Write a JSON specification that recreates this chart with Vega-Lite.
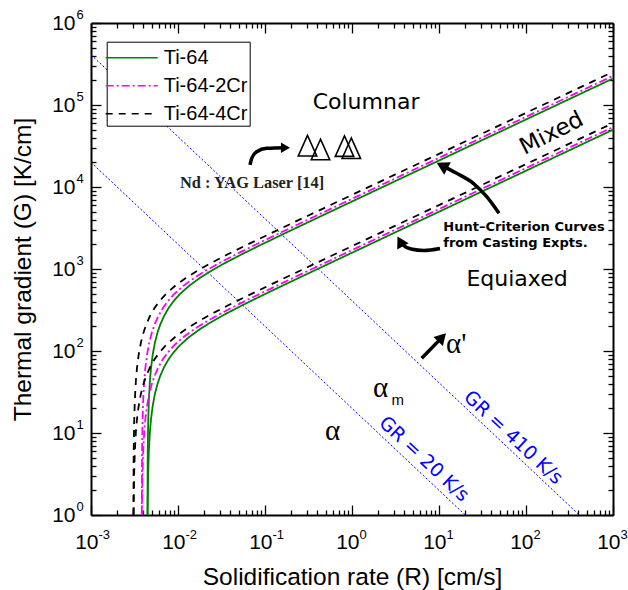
{
  "$schema": "https://vega.github.io/schema/vega-lite/v6.json",
  "width": 522,
  "height": 492,
  "autosize": {"type": "none"},
  "padding": {"left": 91, "top": 23, "right": 15, "bottom": 75},
  "background": "white",
  "config": {
    "view": {"stroke": null},
    "font": "Liberation Sans",
    "legend": {
      "orient": "none",
      "legendX": 15.7,
      "legendY": 18.7,
      "padding": 2,
      "strokeColor": "black",
      "fillColor": "white",
      "symbolType": "M-2,0L2,0",
      "symbolSize": 676,
      "symbolStrokeWidth": 1.6,
      "symbolOffset": 9,
      "labelFont": "Liberation Sans",
      "labelFontSize": 20,
      "labelColor": "black",
      "labelOffset": 18,
      "labelLimit": 300,
      "rowPadding": 4,
      "labelExpr": "datum.label + '  '"
    }
  },
  "datasets": {
    "curves": [
      {"s": "Ti-64", "R": 0.0044567, "Gu": 1.0, "Gl": 0.237},
      {"s": "Ti-64", "R": 0.004478, "Gu": 4.18, "Gl": 0.99},
      {"s": "Ti-64", "R": 0.0044945, "Gu": 6.61, "Gl": 1.568},
      {"s": "Ti-64", "R": 0.004539, "Gu": 13.12, "Gl": 3.11},
      {"s": "Ti-64", "R": 0.004628, "Gu": 25.87, "Gl": 6.14},
      {"s": "Ti-64", "R": 0.0047615, "Gu": 44.32, "Gl": 10.51},
      {"s": "Ti-64", "R": 0.004895, "Gu": 62.04, "Gl": 14.71},
      {"s": "Ti-64", "R": 0.0051175, "Gu": 90.05, "Gl": 21.36},
      {"s": "Ti-64", "R": 0.005429, "Gu": 126.5, "Gl": 30.0},
      {"s": "Ti-64", "R": 0.005785, "Gu": 164.7, "Gl": 39.06},
      {"s": "Ti-64", "R": 0.00623, "Gu": 208.2, "Gl": 49.38},
      {"s": "Ti-64", "R": 0.0068975, "Gu": 266.3, "Gl": 63.16},
      {"s": "Ti-64", "R": 0.0077875, "Gu": 333.6, "Gl": 79.13},
      {"s": "Ti-64", "R": 0.0089, "Gu": 405.9, "Gl": 96.27},
      {"s": "Ti-64", "R": 0.01068, "Gu": 502.8, "Gl": 119.3},
      {"s": "Ti-64", "R": 0.01335, "Gu": 621, "Gl": 147.3},
      {"s": "Ti-64", "R": 0.0178, "Gu": 777, "Gl": 184.3},
      {"s": "Ti-64", "R": 0.024475, "Gu": 960.5, "Gl": 227.8},
      {"s": "Ti-64", "R": 0.0356, "Gu": 1200, "Gl": 284.7},
      {"s": "Ti-64", "R": 0.0534, "Gu": 1501, "Gl": 356},
      {"s": "Ti-64", "R": 0.089, "Gu": 1963, "Gl": 465.6},
      {"s": "Ti-64", "R": 0.178, "Gu": 2797, "Gl": 663.3},
      {"s": "Ti-64", "R": 0.445, "Gu": 4436, "Gl": 1052},
      {"s": "Ti-64", "R": 1.335, "Gu": 7689, "Gl": 1823},
      {"s": "Ti-64", "R": 4.45, "Gu": 14040, "Gl": 3330},
      {"s": "Ti-64", "R": 13.35, "Gu": 24319, "Gl": 5768},
      {"s": "Ti-64", "R": 44.5, "Gu": 44400, "Gl": 10530},
      {"s": "Ti-64", "R": 133.5, "Gu": 76903, "Gl": 18239},
      {"s": "Ti-64", "R": 445, "Gu": 140405, "Gl": 33299},
      {"s": "Ti-64", "R": 1000, "Gu": 210474, "Gl": 49917},
      {"s": "Ti-64-2Cr", "R": 0.0038357, "Gu": 1.0, "Gl": 0.237},
      {"s": "Ti-64-2Cr", "R": 0.0038541, "Gu": 4.18, "Gl": 0.99},
      {"s": "Ti-64-2Cr", "R": 0.0038683, "Gu": 6.61, "Gl": 1.568},
      {"s": "Ti-64-2Cr", "R": 0.0039066, "Gu": 13.12, "Gl": 3.11},
      {"s": "Ti-64-2Cr", "R": 0.0039832, "Gu": 25.87, "Gl": 6.14},
      {"s": "Ti-64-2Cr", "R": 0.0040981, "Gu": 44.32, "Gl": 10.51},
      {"s": "Ti-64-2Cr", "R": 0.004213, "Gu": 62.04, "Gl": 14.71},
      {"s": "Ti-64-2Cr", "R": 0.0044045, "Gu": 90.05, "Gl": 21.36},
      {"s": "Ti-64-2Cr", "R": 0.0046726, "Gu": 126.5, "Gl": 30.0},
      {"s": "Ti-64-2Cr", "R": 0.004979, "Gu": 164.7, "Gl": 39.06},
      {"s": "Ti-64-2Cr", "R": 0.005362, "Gu": 208.2, "Gl": 49.38},
      {"s": "Ti-64-2Cr", "R": 0.0059365, "Gu": 266.3, "Gl": 63.16},
      {"s": "Ti-64-2Cr", "R": 0.0067025, "Gu": 333.6, "Gl": 79.13},
      {"s": "Ti-64-2Cr", "R": 0.00766, "Gu": 405.9, "Gl": 96.27},
      {"s": "Ti-64-2Cr", "R": 0.009192, "Gu": 502.8, "Gl": 119.3},
      {"s": "Ti-64-2Cr", "R": 0.01149, "Gu": 621, "Gl": 147.3},
      {"s": "Ti-64-2Cr", "R": 0.01532, "Gu": 777, "Gl": 184.3},
      {"s": "Ti-64-2Cr", "R": 0.021065, "Gu": 960.5, "Gl": 227.8},
      {"s": "Ti-64-2Cr", "R": 0.03064, "Gu": 1200, "Gl": 284.7},
      {"s": "Ti-64-2Cr", "R": 0.04596, "Gu": 1501, "Gl": 356},
      {"s": "Ti-64-2Cr", "R": 0.0766, "Gu": 1963, "Gl": 465.6},
      {"s": "Ti-64-2Cr", "R": 0.1532, "Gu": 2797, "Gl": 663.3},
      {"s": "Ti-64-2Cr", "R": 0.383, "Gu": 4436, "Gl": 1052},
      {"s": "Ti-64-2Cr", "R": 1.149, "Gu": 7689, "Gl": 1823},
      {"s": "Ti-64-2Cr", "R": 3.83, "Gu": 14040, "Gl": 3330},
      {"s": "Ti-64-2Cr", "R": 11.49, "Gu": 24319, "Gl": 5768},
      {"s": "Ti-64-2Cr", "R": 38.3, "Gu": 44400, "Gl": 10530},
      {"s": "Ti-64-2Cr", "R": 114.9, "Gu": 76903, "Gl": 18239},
      {"s": "Ti-64-2Cr", "R": 383, "Gu": 140405, "Gl": 33299},
      {"s": "Ti-64-2Cr", "R": 1000, "Gu": 226875, "Gl": 53806},
      {"s": "Ti-64-4Cr", "R": 0.0030746, "Gu": 1.0, "Gl": 0.237},
      {"s": "Ti-64-4Cr", "R": 0.0030893, "Gu": 4.18, "Gl": 0.99},
      {"s": "Ti-64-4Cr", "R": 0.0031007, "Gu": 6.61, "Gl": 1.568},
      {"s": "Ti-64-4Cr", "R": 0.0031314, "Gu": 13.12, "Gl": 3.11},
      {"s": "Ti-64-4Cr", "R": 0.0031928, "Gu": 25.87, "Gl": 6.14},
      {"s": "Ti-64-4Cr", "R": 0.0032849, "Gu": 44.32, "Gl": 10.51},
      {"s": "Ti-64-4Cr", "R": 0.003377, "Gu": 62.04, "Gl": 14.71},
      {"s": "Ti-64-4Cr", "R": 0.0035305, "Gu": 90.05, "Gl": 21.36},
      {"s": "Ti-64-4Cr", "R": 0.0037454, "Gu": 126.5, "Gl": 30.0},
      {"s": "Ti-64-4Cr", "R": 0.003991, "Gu": 164.7, "Gl": 39.06},
      {"s": "Ti-64-4Cr", "R": 0.004298, "Gu": 208.2, "Gl": 49.38},
      {"s": "Ti-64-4Cr", "R": 0.0047585, "Gu": 266.3, "Gl": 63.16},
      {"s": "Ti-64-4Cr", "R": 0.0053725, "Gu": 333.6, "Gl": 79.13},
      {"s": "Ti-64-4Cr", "R": 0.00614, "Gu": 405.9, "Gl": 96.27},
      {"s": "Ti-64-4Cr", "R": 0.007368, "Gu": 502.8, "Gl": 119.3},
      {"s": "Ti-64-4Cr", "R": 0.00921, "Gu": 621, "Gl": 147.3},
      {"s": "Ti-64-4Cr", "R": 0.01228, "Gu": 777, "Gl": 184.3},
      {"s": "Ti-64-4Cr", "R": 0.016885, "Gu": 960.5, "Gl": 227.8},
      {"s": "Ti-64-4Cr", "R": 0.02456, "Gu": 1200, "Gl": 284.7},
      {"s": "Ti-64-4Cr", "R": 0.03684, "Gu": 1501, "Gl": 356},
      {"s": "Ti-64-4Cr", "R": 0.0614, "Gu": 1963, "Gl": 465.6},
      {"s": "Ti-64-4Cr", "R": 0.1228, "Gu": 2797, "Gl": 663.3},
      {"s": "Ti-64-4Cr", "R": 0.307, "Gu": 4436, "Gl": 1052},
      {"s": "Ti-64-4Cr", "R": 0.921, "Gu": 7689, "Gl": 1823},
      {"s": "Ti-64-4Cr", "R": 3.07, "Gu": 14040, "Gl": 3330},
      {"s": "Ti-64-4Cr", "R": 9.21, "Gu": 24319, "Gl": 5768},
      {"s": "Ti-64-4Cr", "R": 30.7, "Gu": 44400, "Gl": 10530},
      {"s": "Ti-64-4Cr", "R": 92.1, "Gu": 76903, "Gl": 18239},
      {"s": "Ti-64-4Cr", "R": 307, "Gu": 140405, "Gl": 33299},
      {"s": "Ti-64-4Cr", "R": 1000, "Gu": 253404, "Gl": 60098}
    ],
    "gr": [
      {"gr": "20", "R": 0.001, "G": 20000},
      {"gr": "20", "R": 20, "G": 1},
      {"gr": "410", "R": 0.001, "G": 410000},
      {"gr": "410", "R": 410, "G": 1}
    ],
    "arrows": [
      {"id": "a1", "R": 0.06724, "G": 18550},
      {"id": "a1", "R": 0.07033, "G": 22390},
      {"id": "a1", "R": 0.08025, "G": 26950},
      {"id": "a1", "R": 0.1046, "G": 29650},
      {"id": "a1", "R": 0.172, "G": 30150},
      {"id": "a2", "R": 48.95, "G": 4778},
      {"id": "a2", "R": 35.35, "G": 7615},
      {"id": "a2", "R": 24.79, "G": 11095},
      {"id": "a2", "R": 15.97, "G": 14695},
      {"id": "a2", "R": 10.85, "G": 18240},
      {"id": "a3", "R": 10.27, "G": 1778},
      {"id": "a3", "R": 6.723, "G": 1681},
      {"id": "a3", "R": 4.767, "G": 1754},
      {"id": "a3", "R": 3.857, "G": 1962},
      {"id": "a3", "R": 3.581, "G": 2171},
      {"id": "a4", "R": 6.326, "G": 81.47},
      {"id": "a4", "R": 10.85, "G": 146.5}
    ]
  },
  "resolve": {"axis": {"x": "independent", "y": "independent"}},
  "layer": [
    {
      "data": {"name": "gr"},
      "mark": {"type": "line", "color": "#0000ff", "strokeWidth": 1, "strokeDash": [2, 2], "clip": true},
      "encoding": {
        "x": {"field": "R", "type": "quantitative", "scale": {"type": "log", "domain": [0.001, 1000], "nice": false},
          "axis": {"orient": "top", "values": [0.001,0.002,0.003,0.004,0.005,0.006,0.007,0.008,0.009,0.01,0.02,0.03,0.04,0.05,0.06,0.07,0.08,0.09,0.1,0.2,0.3,0.4,0.5,0.6,0.7,0.8,0.9,1,2,3,4,5,6,7,8,9,10,20,30,40,50,60,70,80,90,100,200,300,400,500,600,700,800,900,1000],
            "labels": false, "grid": false, "title": null, "domain": true, "domainColor": "black", "domainWidth": 2, "ticks": true, "tickColor": "black", "tickWidth": 1.3,
            "tickSize": {"condition": {"test": "abs(log(datum.value)/LN10 - round(log(datum.value)/LN10)) < 0.001", "value": -10}, "value": -5}}},
        "y": {"field": "G", "type": "quantitative", "scale": {"type": "log", "domain": [1, 1000000], "nice": false},
          "axis": {"orient": "right", "values": [1,2,3,4,5,6,7,8,9,10,20,30,40,50,60,70,80,90,100,200,300,400,500,600,700,800,900,1000,2000,3000,4000,5000,6000,7000,8000,9000,10000,20000,30000,40000,50000,60000,70000,80000,90000,100000,200000,300000,400000,500000,600000,700000,800000,900000,1000000],
            "labels": false, "grid": false, "title": null, "domain": true, "domainColor": "black", "domainWidth": 2, "ticks": true, "tickColor": "black", "tickWidth": 1.3,
            "tickSize": {"condition": {"test": "abs(log(datum.value)/LN10 - round(log(datum.value)/LN10)) < 0.001", "value": -10}, "value": -5}}},
        "detail": {"field": "gr", "type": "nominal"}
      }
    },
    {
      "data": {"name": "curves"},
      "mark": {"type": "line", "strokeWidth": 1.8, "clip": true},
      "encoding": {
        "x": {"field": "R", "type": "quantitative", "scale": {"type": "log", "domain": [0.001, 1000], "nice": false},
          "axis": {"orient": "bottom", "values": [0.001, 0.01, 0.1, 1, 10, 100, 1000], "ticks": false, "domain": false, "grid": false,
            "labelExpr": "'10'", "labelAlign": "right", "labelBaseline": "top", "labelOffset": 7, "labelPadding": 16, "labelFontSize": 21, "labelFont": "Liberation Sans", "labelColor": "black", "labelFlush": false, "labelOverlap": false,
            "title": "Solidification rate (R) [cm/s]", "titleFont": "Liberation Sans", "titleFontSize": 24.5, "titleFontWeight": "normal", "titleColor": "black", "titlePadding": 13}},
        "y": {"field": "Gu", "type": "quantitative", "scale": {"type": "log", "domain": [1, 1000000], "nice": false},
          "axis": {"orient": "left", "values": [1, 10, 100, 1000, 10000, 100000, 1000000], "ticks": false, "domain": false, "grid": false,
            "labelExpr": "'10'", "labelAlign": "right", "labelBaseline": "middle", "labelPadding": 16, "labelFontSize": 21, "labelFont": "Liberation Sans", "labelColor": "black", "labelFlush": false, "labelOverlap": false,
            "title": "Thermal gradient (G) [K/cm]", "titleFont": "Liberation Sans", "titleFontSize": 24.5, "titleFontWeight": "normal", "titleColor": "black", "titlePadding": 16}},
        "color": {"field": "s", "type": "nominal", "scale": {"domain": ["Ti-64", "Ti-64-2Cr", "Ti-64-4Cr"], "range": ["#008000", "#ff00ff", "#000000"]}, "legend": {"title": null}},
        "strokeDash": {"field": "s", "type": "nominal", "scale": {"domain": ["Ti-64", "Ti-64-2Cr", "Ti-64-4Cr"], "range": [[1, 0], [8, 3, 2, 3], [7, 6]]}, "legend": {"title": null}}
      }
    },
    {
      "data": {"name": "curves"},
      "mark": {"type": "line", "strokeWidth": 1.8, "clip": true},
      "encoding": {
        "x": {"field": "R", "type": "quantitative", "scale": {"type": "log", "domain": [0.001, 1000], "nice": false},
          "axis": {"orient": "bottom", "values": [0.001, 0.01, 0.1, 1, 10, 100, 1000], "ticks": false, "domain": false, "grid": false,
            "labelExpr": "'' + round(log(datum.value)/LN10)", "labelAlign": "left", "labelBaseline": "top", "labelOffset": 7, "labelPadding": 13, "labelFontSize": 13, "labelFont": "Liberation Sans", "labelColor": "black", "labelFlush": false, "labelOverlap": false, "title": null}},
        "y": {"field": "Gl", "type": "quantitative", "scale": {"type": "log", "domain": [1, 1000000], "nice": false},
          "axis": {"orient": "left", "values": [1, 10, 100, 1000, 10000, 100000, 1000000], "ticks": false, "domain": false, "grid": false,
            "labelExpr": "'' + round(log(datum.value)/LN10)", "labelAlign": "left", "labelBaseline": "middle", "labelPadding": 15, "labelOffset": -9, "labelFontSize": 13, "labelFont": "Liberation Sans", "labelColor": "black", "labelFlush": false, "labelOverlap": false, "title": null}},
        "color": {"field": "s", "type": "nominal", "scale": {"domain": ["Ti-64", "Ti-64-2Cr", "Ti-64-4Cr"], "range": ["#008000", "#ff00ff", "#000000"]}, "legend": {"title": null}},
        "strokeDash": {"field": "s", "type": "nominal", "scale": {"domain": ["Ti-64", "Ti-64-2Cr", "Ti-64-4Cr"], "range": [[1, 0], [8, 3, 2, 3], [7, 6]]}, "legend": {"title": null}}
      }
    },
    {
      "data": {"values": [
        {"R": 0.308, "G": 31900},
        {"R": 0.4345, "G": 28640},
        {"R": 0.82, "G": 31500},
        {"R": 0.9817, "G": 29720}
      ]},
      "mark": {"type": "point", "shape": "M0,-1L-0.9,1L0.9,1Z", "size": 420, "filled": false, "stroke": "black", "strokeWidth": 1.6, "opacity": 1},
      "encoding": {
        "x": {"field": "R", "type": "quantitative", "scale": {"type": "log", "domain": [0.001, 1000], "nice": false},
          "axis": {"orient": "bottom", "values": [0.001,0.002,0.003,0.004,0.005,0.006,0.007,0.008,0.009,0.01,0.02,0.03,0.04,0.05,0.06,0.07,0.08,0.09,0.1,0.2,0.3,0.4,0.5,0.6,0.7,0.8,0.9,1,2,3,4,5,6,7,8,9,10,20,30,40,50,60,70,80,90,100,200,300,400,500,600,700,800,900,1000],
            "labels": false, "grid": false, "title": null, "domain": true, "domainColor": "black", "domainWidth": 2, "ticks": true, "tickColor": "black", "tickWidth": 1.3,
            "tickSize": {"condition": {"test": "abs(log(datum.value)/LN10 - round(log(datum.value)/LN10)) < 0.001", "value": -10}, "value": -5}}},
        "y": {"field": "G", "type": "quantitative", "scale": {"type": "log", "domain": [1, 1000000], "nice": false},
          "axis": {"orient": "left", "values": [1,2,3,4,5,6,7,8,9,10,20,30,40,50,60,70,80,90,100,200,300,400,500,600,700,800,900,1000,2000,3000,4000,5000,6000,7000,8000,9000,10000,20000,30000,40000,50000,60000,70000,80000,90000,100000,200000,300000,400000,500000,600000,700000,800000,900000,1000000],
            "labels": false, "grid": false, "title": null, "domain": true, "domainColor": "black", "domainWidth": 2, "ticks": true, "tickColor": "black", "tickWidth": 1.3,
            "tickSize": {"condition": {"test": "abs(log(datum.value)/LN10 - round(log(datum.value)/LN10)) < 0.001", "value": -10}, "value": -5}}}
      }
    },
    {
      "data": {"name": "arrows"},
      "mark": {"type": "line", "color": "black", "strokeWidth": 3.5, "interpolate": "monotone"},
      "encoding": {
        "x": {"field": "R", "type": "quantitative", "scale": {"type": "log", "domain": [0.001, 1000], "nice": false}, "axis": null},
        "y": {"field": "G", "type": "quantitative", "scale": {"type": "log", "domain": [1, 1000000], "nice": false}, "axis": null},
        "detail": {"field": "id", "type": "nominal"}
      }
    },
    {
      "data": {"values": [{"R": 0.172, "G": 30150}]},
      "mark": {"type": "point", "shape": "triangle-right", "filled": true, "color": "black", "opacity": 1, "size": 110, "angle": 0},
      "encoding": {
        "x": {"field": "R", "type": "quantitative", "scale": {"type": "log", "domain": [0.001, 1000], "nice": false}, "axis": null},
        "y": {"field": "G", "type": "quantitative", "scale": {"type": "log", "domain": [1, 1000000], "nice": false}, "axis": null}
      }
    },
    {
      "data": {"values": [{"R": 10.85, "G": 18240}]},
      "mark": {"type": "point", "shape": "triangle-right", "filled": true, "color": "black", "opacity": 1, "size": 200, "angle": 208},
      "encoding": {
        "x": {"field": "R", "type": "quantitative", "scale": {"type": "log", "domain": [0.001, 1000], "nice": false}, "axis": null},
        "y": {"field": "G", "type": "quantitative", "scale": {"type": "log", "domain": [1, 1000000], "nice": false}, "axis": null}
      }
    },
    {
      "data": {"values": [{"R": 3.581, "G": 2171}]},
      "mark": {"type": "point", "shape": "triangle-right", "filled": true, "color": "black", "opacity": 1, "size": 170, "angle": 241},
      "encoding": {
        "x": {"field": "R", "type": "quantitative", "scale": {"type": "log", "domain": [0.001, 1000], "nice": false}, "axis": null},
        "y": {"field": "G", "type": "quantitative", "scale": {"type": "log", "domain": [1, 1000000], "nice": false}, "axis": null}
      }
    },
    {
      "data": {"values": [{"R": 10.85, "G": 146.5}]},
      "mark": {"type": "point", "shape": "triangle-right", "filled": true, "color": "black", "opacity": 1, "size": 170, "angle": 314},
      "encoding": {
        "x": {"field": "R", "type": "quantitative", "scale": {"type": "log", "domain": [0.001, 1000], "nice": false}, "axis": null},
        "y": {"field": "G", "type": "quantitative", "scale": {"type": "log", "domain": [1, 1000000], "nice": false}, "axis": null}
      }
    },
    {
      "data": {"values": [
        {"t": "Columnar", "R": 1.45, "G": 109000},
        {"t": "Equiaxed", "R": 78.9, "G": 745}
      ]},
      "mark": {"type": "text", "font": "DejaVu Sans", "fontSize": 22, "align": "center", "baseline": "middle", "color": "black"},
      "encoding": {
        "x": {"field": "R", "type": "quantitative", "scale": {"type": "log", "domain": [0.001, 1000], "nice": false}, "axis": null},
        "y": {"field": "G", "type": "quantitative", "scale": {"type": "log", "domain": [1, 1000000], "nice": false}, "axis": null},
        "text": {"field": "t"}
      }
    },
    {
      "data": {"values": [{"t": "Mixed", "R": 197, "G": 45200}]},
      "mark": {"type": "text", "font": "DejaVu Sans", "fontSize": 23, "align": "center", "baseline": "middle", "angle": 333, "color": "black"},
      "encoding": {
        "x": {"field": "R", "type": "quantitative", "scale": {"type": "log", "domain": [0.001, 1000], "nice": false}, "axis": null},
        "y": {"field": "G", "type": "quantitative", "scale": {"type": "log", "domain": [1, 1000000], "nice": false}, "axis": null},
        "text": {"field": "t"}
      }
    },
    {
      "data": {"values": [
        {"t": "GR = 20 K/s", "R": 6.723, "G": 4.818},
        {"t": "GR = 410 K/s", "R": 71.45, "G": 8.812}
      ]},
      "mark": {"type": "text", "font": "DejaVu Sans", "fontSize": 19, "align": "center", "baseline": "middle", "angle": 43, "color": "#0000ff"},
      "encoding": {
        "x": {"field": "R", "type": "quantitative", "scale": {"type": "log", "domain": [0.001, 1000], "nice": false}, "axis": null},
        "y": {"field": "G", "type": "quantitative", "scale": {"type": "log", "domain": [1, 1000000], "nice": false}, "axis": null},
        "text": {"field": "t"}
      }
    },
    {
      "data": {"values": [
        {"t": "Hunt–Criterion Curves", "R": 11.2, "G": 2931},
        {"t": "from Casting Expts.", "R": 11.2, "G": 1841}
      ]},
      "mark": {"type": "text", "font": "DejaVu Sans", "fontSize": 13, "fontWeight": "bold", "align": "left", "baseline": "alphabetic", "color": "black"},
      "encoding": {
        "x": {"field": "R", "type": "quantitative", "scale": {"type": "log", "domain": [0.001, 1000], "nice": false}, "axis": null},
        "y": {"field": "G", "type": "quantitative", "scale": {"type": "log", "domain": [1, 1000000], "nice": false}, "axis": null},
        "text": {"field": "t"}
      }
    },
    {
      "data": {"values": [{"t": "Nd : YAG Laser [14]", "R": 0.01055, "G": 9800}]},
      "mark": {"type": "text", "font": "Liberation Serif", "fontSize": 16.4, "fontWeight": "bold", "align": "left", "baseline": "alphabetic", "color": "#222222"},
      "encoding": {
        "x": {"field": "R", "type": "quantitative", "scale": {"type": "log", "domain": [0.001, 1000], "nice": false}, "axis": null},
        "y": {"field": "G", "type": "quantitative", "scale": {"type": "log", "domain": [1, 1000000], "nice": false}, "axis": null},
        "text": {"field": "t"}
      }
    },
    {
      "data": {"values": [
        {"t": "α'", "R": 12.04, "G": 94.55},
        {"t": "α", "R": 1.743, "G": 27.48},
        {"t": "α", "R": 0.4895, "G": 8.214}
      ]},
      "mark": {"type": "text", "font": "Liberation Serif", "fontSize": 29, "align": "left", "baseline": "alphabetic", "color": "black"},
      "encoding": {
        "x": {"field": "R", "type": "quantitative", "scale": {"type": "log", "domain": [0.001, 1000], "nice": false}, "axis": null},
        "y": {"field": "G", "type": "quantitative", "scale": {"type": "log", "domain": [1, 1000000], "nice": false}, "axis": null},
        "text": {"field": "t"}
      }
    },
    {
      "data": {"values": [{"t": "m", "R": 2.844, "G": 21.95}]},
      "mark": {"type": "text", "font": "Liberation Sans", "fontSize": 15, "align": "left", "baseline": "alphabetic", "color": "black"},
      "encoding": {
        "x": {"field": "R", "type": "quantitative", "scale": {"type": "log", "domain": [0.001, 1000], "nice": false}, "axis": null},
        "y": {"field": "G", "type": "quantitative", "scale": {"type": "log", "domain": [1, 1000000], "nice": false}, "axis": null},
        "text": {"field": "t"}
      }
    }
  ]
}
